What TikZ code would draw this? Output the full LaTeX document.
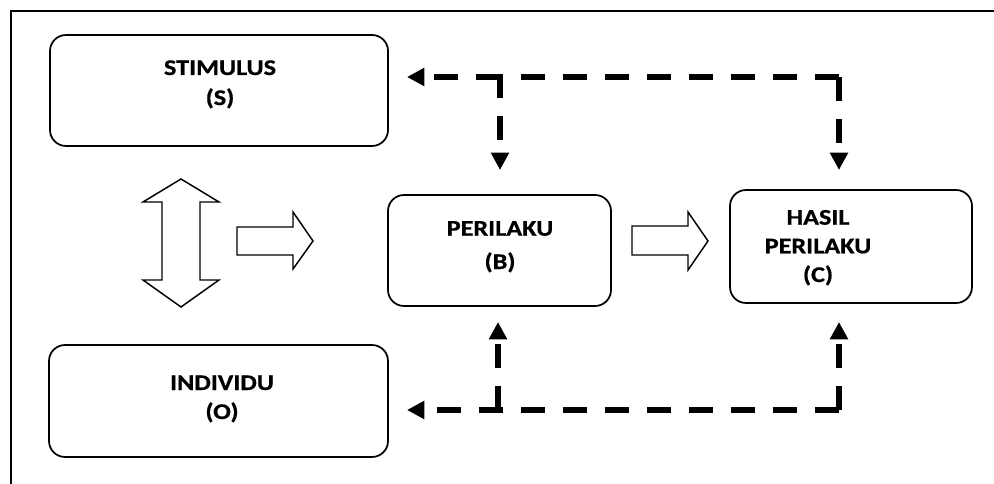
\documentclass[tikz,border=0pt]{standalone}
\usepackage{fontspec}
\setmainfont{Carlito}[FakeStretch=1.17,BoldFeatures={FakeBold=0.8}]
\usetikzlibrary{arrows.meta,fit}
\begin{document}
\begin{tikzpicture}[x=0.75pt,y=-0.75pt,
  box/.style={draw,line width=1.3pt,rounded corners=12pt,inner sep=0pt},
  lbl/.style={align=center,inner sep=0pt,anchor=base,font=\bfseries\fontsize{16.8pt}{#1}\selectfont},
  lbl/.default=23pt,
  blockarrow/.style={draw,line width=1.1pt,fill=white,line join=miter},
  dline/.style={line width=4pt,dash pattern=on 18pt off 13.5pt,-{Triangle[length=13pt,width=13pt]}}]
\useasboundingbox (0,0) rectangle (994,484);
\clip (0,0) rectangle (994,484);
% outer frame
\draw[line width=1.5pt] (11,11) rectangle (1020,520);
% boxes
\node[box,fit={(50,35) (388,146)}] (S) {};
\node[box,fit={(49,345) (388,457)}] (O) {};
\node[box,fit={(388,195) (611,306)}] (B) {};
\node[box,fit={(730,190) (972,303)}] (C) {};
% labels (anchor = baseline of the last line)
\node[lbl=22.5pt] (St) at (220,105) {STIMULUS\\(S)};
\node[lbl=21.75pt] (Ot) at (222,419) {INDIVIDU\\(O)};
\node[lbl=25pt] (Bt) at (500,269) {PERILAKU\\(B)};
\node[lbl=21.5pt] (Ct) at (818,282) {HASIL\\PERILAKU\\(C)};
% block arrows
\draw[blockarrow] (181,179) -- (219,202) -- (200,202) -- (200,280) -- (219,280) -- (181,307)
  -- (143,280) -- (162,280) -- (162,202) -- (143,202) -- cycle;
\draw[blockarrow] (237,227) -- (293,227) -- (293,212) -- (313,241) -- (293,269) -- (293,255) -- (237,255) -- cycle;
\draw[blockarrow] (632,226) -- (688,226) -- (688,212) -- (708,241) -- (688,270) -- (688,255) -- (632,255) -- cycle;
% dashed connectors
\coordinate (tR) at (839,77);
\coordinate (tM) at (500,77);
\coordinate (tS) at (407,77);
\coordinate (tB) at (500,170);
\coordinate (tC) at (839,170);
\coordinate (bR) at (839,410);
\coordinate (bM) at (498,410);
\coordinate (bO) at (407,410);
\coordinate (bB) at (498,322);
\coordinate (bC) at (839,322);
\draw[dline,line join=miter] (tR) -- (tM) -- (tB);
\draw[dline] (tM) -- (tS);
\draw[dline] (tR) -- (tC);
\draw[dline,line join=miter] (bR) -- (bM) -- (bO);
\draw[dline] (bM) -- (bB);
\draw[dline] (bR) -- (bC);
\end{tikzpicture}
\end{document}
